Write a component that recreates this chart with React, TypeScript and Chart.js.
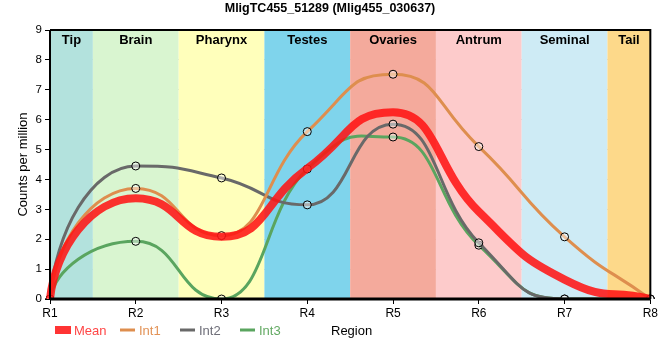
import React, { useEffect, useRef } from "react";
import { Chart, registerables } from "chart.js";

Chart.register(...registerables);

const TITLE = "MligTC455_51289 (Mlig455_030637)";
const categories = ["R1", "R2", "R3", "R4", "R5", "R6", "R7", "R8"];
const meanValues = [0, 3.37, 2.08, 4.37, 6.25, 2.92, 0.65, 0];
const int1Values = [0, 3.7, 2.12, 5.6, 7.52, 5.1, 2.08, 0];
const int2Values = [0, 4.45, 4.05, 3.15, 5.85, 1.88, 0, 0];
const int3Values = [0, 1.93, 0, 4.35, 5.42, 1.8, 0, 0];
const bandNames = ["Tip", "Brain", "Pharynx", "Testes", "Ovaries", "Antrum", "Seminal", "Tail"];
const bandColors = [
  "rgb(179,226,221)",
  "rgb(217,245,208)",
  "rgb(255,255,187)",
  "rgb(127,212,236)",
  "rgb(244,170,156)",
  "rgb(253,203,203)",
  "rgb(206,235,245)",
  "rgb(253,217,138)",
];
const seriesNames = ["Mean", "Int1", "Int2", "Int3"];
const seriesColors = ["rgba(255,20,20,0.87)", "rgb(222,142,78)", "rgb(105,105,105)", "rgb(90,165,95)"];
const legendTextColors = ["rgb(255,70,70)", "rgb(226,146,86)", "rgb(110,110,120)", "rgb(100,170,100)"];

const FONT = "'Liberation Sans', Arial, sans-serif";
const CP_STRETCH = 1.55;

const bandPlugin = {
  id: "bands",
  afterDatasetsUpdate(chart: any) {
    chart.getSortedVisibleDatasetMetas().forEach((meta: any) => {
      if (meta.dataset) meta.dataset._needStretch = true;
    });
  },
  beforeDatasetsDraw(chart: any) {
    const { ctx, chartArea, scales } = chart;
    const x = scales.x;
    ctx.save();
    for (let i = 0; i < bandNames.length; i++) {
      const l = Math.max(chartArea.left, x.getPixelForValue(i - 0.5));
      const r = Math.min(chartArea.right, x.getPixelForValue(i + 0.5));
      ctx.fillStyle = bandColors[i];
      ctx.fillRect(l, chartArea.top, r - l, chartArea.bottom - chartArea.top);
    }
    ctx.restore();
    chart.getSortedVisibleDatasetMetas().forEach((meta: any) => {
      const line = meta.dataset;
      if (!line || !line._needStretch) return;
      line._needStretch = false;
      line.updateControlPoints(chart.chartArea, "x");
      const pts = meta.data;
      for (let i = 0; i < pts.length; i++) {
        const p = pts[i];
        if (p.cp1x !== undefined) {
          p.cp1x = p.x + (p.cp1x - p.x) * CP_STRETCH;
          p.cp1y = p.y + (p.cp1y - p.y) * CP_STRETCH;
        }
        if (p.cp2x !== undefined) {
          p.cp2x = p.x + (p.cp2x - p.x) * CP_STRETCH;
          p.cp2y = p.y + (p.cp2y - p.y) * CP_STRETCH;
        }
      }
      if (pts.length > 1) {
        const p0 = pts[0];
        const p1 = pts[1];
        p0.cp2x = p0.x + (p1.x - p0.x) * 0.06;
        p0.cp2y = p0.y + (p1.y - p0.y) * 0.5;
      }
      line._path = undefined;
    });
  },
};

const overlayPlugin = {
  id: "overlay",
  afterDraw(chart: any) {
    const { ctx, chartArea, scales } = chart;
    const x = scales.x;
    ctx.save();
    ctx.fillStyle = "#000";
    ctx.font = "bold 13px " + FONT;
    ctx.textAlign = "center";
    ctx.textBaseline = "middle";
    for (let i = 0; i < bandNames.length; i++) {
      const l = Math.max(chartArea.left, x.getPixelForValue(i - 0.5));
      const r = Math.min(chartArea.right, x.getPixelForValue(i + 0.5));
      ctx.fillText(bandNames[i], (l + r) / 2, chartArea.top + 10);
    }
    ctx.font = "bold 12.5px " + FONT;
    ctx.fillText(TITLE, 330, 9);
    ctx.strokeStyle = "#000";
    ctx.lineWidth = 2;
    ctx.beginPath();
    ctx.moveTo(chartArea.left, chartArea.top);
    ctx.lineTo(chartArea.right, chartArea.top);
    ctx.lineTo(chartArea.right, chartArea.bottom);
    ctx.stroke();
    ctx.lineWidth = 3;
    ctx.beginPath();
    ctx.moveTo(chartArea.left, chartArea.bottom);
    ctx.lineTo(chartArea.right, chartArea.bottom);
    ctx.stroke();
    ctx.lineWidth = 2;
    ctx.beginPath();
    ctx.moveTo(chartArea.left, chartArea.top);
    ctx.lineTo(chartArea.left, chartArea.bottom);
    ctx.stroke();
    ctx.font = "13px " + FONT;
    ctx.fillStyle = "#000";
    ctx.textAlign = "left";
    ctx.fillText("Region", 331, 331);
    const ly = 330;
    const starts = [55, 120, 180, 240];
    for (let i = 0; i < seriesNames.length; i++) {
      const sx = starts[i];
      if (i === 0) {
        ctx.fillStyle = "rgba(255,30,30,0.9)";
        ctx.fillRect(sx, ly - 4, 16, 8);
      } else {
        ctx.strokeStyle = seriesColors[i];
        ctx.lineWidth = 3;
        ctx.beginPath();
        ctx.moveTo(sx, ly);
        ctx.lineTo(sx + 15, ly);
        ctx.stroke();
      }
      ctx.fillStyle = legendTextColors[i];
      ctx.font = "13px " + FONT;
      ctx.textAlign = "left";
      ctx.fillText(seriesNames[i], sx + 19, ly + 1);
    }
    ctx.restore();
  },
};

export default function App() {
  const ref = useRef<HTMLCanvasElement | null>(null);
  useEffect(() => {
    if (!ref.current) return;
    const mk = (name: string, data: number[], color: string, width: number, pts: boolean) => ({
      label: name,
      data,
      borderColor: color,
      backgroundColor: color,
      borderWidth: width,
      cubicInterpolationMode: "monotone" as const,
      pointRadius: pts ? 4 : 0,
      pointBorderColor: "#000",
      pointBorderWidth: 1,
      pointBackgroundColor: "rgba(255,255,255,0.45)",
      fill: false,
    });
    const chart = new Chart(ref.current, {
      type: "line",
      data: {
        labels: categories,
        datasets: [
          mk("Mean", meanValues, seriesColors[0], 8, false),
          mk("Int1", int1Values, seriesColors[1], 3, true),
          mk("Int2", int2Values, seriesColors[2], 3, true),
          mk("Int3", int3Values, seriesColors[3], 3, true),
        ],
      },
      options: {
        animation: false,
        responsive: false,
        maintainAspectRatio: false,
        layout: { padding: { left: 16, right: 9, top: 30, bottom: 0 } },
        plugins: {
          legend: { display: false },
          title: { display: false },
          tooltip: { enabled: false },
        },
        scales: {
          x: {
            offset: false,
            grid: { color: "#c8c8c8", lineWidth: 1, tickColor: "#000", tickLength: 5, drawOnChartArea: true },
            border: { display: false },
            ticks: { color: "#000", font: { family: FONT, size: 12 }, padding: 2, maxRotation: 0 },
            afterFit: (s: any) => {
              s.height = 61;
            },
          },
          y: {
            min: 0,
            max: 9,
            ticks: { stepSize: 1, color: "#000", font: { family: FONT, size: 11.5 }, padding: 3 },
            grid: { color: "#c8c8c8", lineWidth: 1, tickColor: "#000", tickLength: 5 },
            border: { display: false },
            title: { display: true, text: "Counts per million", color: "#000", font: { family: FONT, size: 13 }, padding: 0 },
            afterFit: (s: any) => {
              s.width = 34;
            },
          },
        },
      },
      plugins: [bandPlugin, overlayPlugin],
    });
    return () => chart.destroy();
  }, []);
  return (
    <div style={{ position: "fixed", left: 0, top: 0, width: 660, height: 360, background: "#fff" }}>
      <canvas ref={ref} width={660} height={360} style={{ width: 660, height: 360 }} />
    </div>
  );
}
